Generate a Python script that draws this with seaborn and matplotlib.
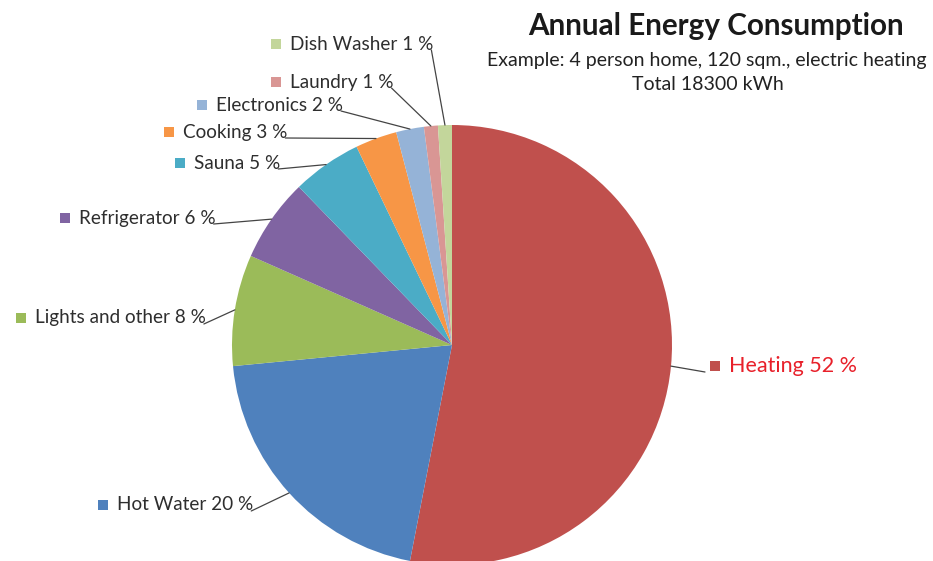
import numpy as np
import matplotlib
matplotlib.use("Agg")
import matplotlib.pyplot as plt
import seaborn as sns

sns.set_theme(style="white")
plt.rcParams['font.family'] = ['Lato', 'DejaVu Sans']

# ---- data ----
categories = ["Heating", "Hot Water", "Lights and other", "Refrigerator", "Sauna",
              "Cooking", "Electronics", "Laundry", "Dish Washer"]
percent = [52, 20, 8, 6, 5, 3, 2, 1, 1]
colors = ["#C0504D", "#4F81BD", "#9BBB59", "#8064A2", "#4BACC6",
          "#F79646", "#95B3D7", "#D99694", "#C3D69B"]
title = "Annual Energy Consumption"
subtitle = ["Example: 4 person home, 120 sqm., electric heating", "Total 18300 kWh"]

# label text anchor positions in pixels (x of text start, y center from top)
label_pos = {
    "Heating": (729, 366),
    "Hot Water": (117, 505),
    "Lights and other": (35, 318),
    "Refrigerator": (79, 218),
    "Sauna": (194, 163),
    "Cooking": (183, 132),
    "Electronics": (216, 105),
    "Laundry": (290, 82),
    "Dish Washer": (290, 44),
}

W, H = 933, 561
fig = plt.figure(figsize=(W / 100, H / 100), dpi=100)
ax = fig.add_axes([0, 0, 1, 1])

cx, cy, R = 452, H - 345, 220
wedges, _ = ax.pie(percent, colors=colors, startangle=90, counterclock=False,
                   center=(cx, cy), radius=R,
                   wedgeprops=dict(linewidth=0))
ax.set_xlim(0, W)
ax.set_ylim(0, H)
ax.set_aspect("auto")
ax.axis("off")

# titles
ax.text(716, H - 26, title, ha="center", va="center", fontsize=21.3,
        fontweight="bold", color="#1a1a1a")
ax.text(707, H - 60, subtitle[0], ha="center", va="center", fontsize=14, color="#222222")
ax.text(708, H - 84, subtitle[1], ha="center", va="center", fontsize=14, color="#222222")

fig.canvas.draw()
renderer = fig.canvas.get_renderer()
inv = ax.transData.inverted()

for cat, p, col, w in zip(categories, percent, colors, wedges):
    tx, ty = label_pos[cat]
    ty = H - ty
    is_heat = cat == "Heating"
    tcol = "#E8202A" if is_heat else "#2e2e2e"
    fs = 15.5 if is_heat else 13.6
    t = ax.text(tx, ty, f"{cat} {p} %", ha="left", va="center", fontsize=fs, color=tcol)
    ax.scatter([tx - 14], [ty], marker="s", s=48, color=col, zorder=5, linewidths=0)
    bb = t.get_window_extent(renderer)
    x1 = inv.transform((bb.x1, bb.y0))[0]
    mid = np.deg2rad((w.theta1 + w.theta2) / 2)
    ex, ey = cx + R * np.cos(mid), cy + R * np.sin(mid)
    if is_heat:
        ax.plot([ex, tx - 24], [ey, ty - 6], color="#444444", lw=0.9)
    else:
        ax.plot([x1 - 2, ex], [ty - 6, ey], color="#444444", lw=0.9)

fig.savefig("out.png", dpi=100)
